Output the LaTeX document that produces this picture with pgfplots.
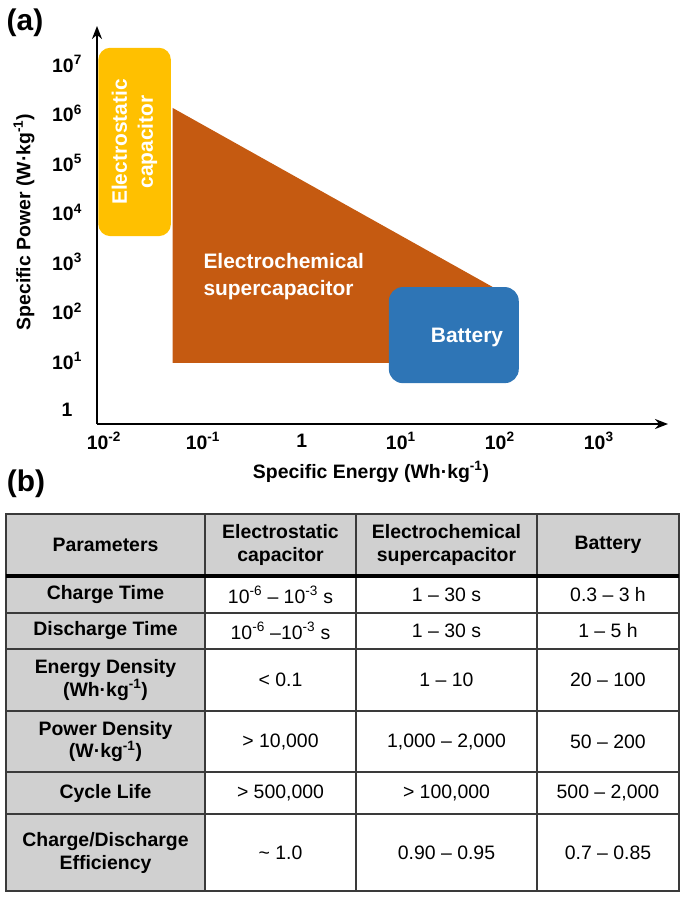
\documentclass[border=0pt]{standalone}
\usepackage{fontspec}
\setmainfont{Liberation Sans}
\usepackage{pgfplots}
\pgfplotsset{compat=1.18}
\usetikzlibrary{arrows.meta}
\definecolor{esc}{HTML}{FFC000}
\definecolor{ecs}{HTML}{C55A11}
\definecolor{bat}{HTML}{2E75B6}
\definecolor{tgray}{HTML}{D0D0D0}
\definecolor{tline}{HTML}{3A3A3A}
\newcommand{\fs}[2]{\fontsize{#1}{#2}\selectfont}
\begin{document}
\begin{tikzpicture}
\begin{scope}[x=1bp,y=-1bp]
\path (0,0) rectangle (685,898);
\end{scope}
\begin{axis}[
  at={(97bp,-424bp)}, anchor=south west,
  scale only axis, width=571bp, height=398bp,
  xmode=log, ymode=log,
  xmin=0.00851, xmax=5012, ymin=0.501, ymax=5.62e7,
  axis lines=left,
  axis line style={line width=2.2bp, -{Stealth[length=13bp,width=10bp]}},
  xtick={0.01,0.1,1,10,100,1000},
  xticklabels={10\textsuperscript{-2},10\textsuperscript{-1},1,10\textsuperscript{1},10\textsuperscript{2},10\textsuperscript{3}},
  ytick={1,10,100,1000,10000,100000,1000000,10000000},
  yticklabels={1,10\textsuperscript{1},10\textsuperscript{2},10\textsuperscript{3},10\textsuperscript{4},10\textsuperscript{5},10\textsuperscript{6},10\textsuperscript{7}},
  major tick length=0pt, minor tick length=0pt,
  xminorticks=false, yminorticks=false,
  tick label style={font=\fs{19.5}{22}\bfseries},
  xticklabel style={anchor=center, yshift=-17bp},
  yticklabel style={anchor=center, xshift=-30bp, yshift=-1bp},
  clip=false,
]
% electrochemical supercapacitor region
\addplot[draw=none, fill=ecs] coordinates {(0.0494,1.24e6) (85,295) (85,8.66) (0.0494,8.66)} -- cycle;
% electrostatic capacitor
\addplot[draw=none, fill=esc, rounded corners=12bp] coordinates {(0.0203,2.04e7) (0.0475,2.04e7) (0.0475,3162) (0.00878,3162) (0.00878,2.04e7)} -- cycle;
% battery
\addplot[draw=none, fill=bat, rounded corners=14bp] coordinates {(34.3,295) (155.6,295) (155.6,3.36) (7.57,3.36) (7.57,295)} -- cycle;
\end{axis}
\begin{scope}[x=1bp,y=-1bp]
% chart texts
\node[rotate=90, white, font=\fs{21}{26}\bfseries, align=center] at (134.5,142) {Electrostatic\\capacitor};
\node[anchor=west, white, font=\fs{21}{27}\bfseries, align=left] at (200,277) {Electrochemical\\supercapacitor};
\node[white, font=\fs{21}{26}\bfseries] at (467,337) {Battery};
\node[rotate=90, font=\fs{19.5}{23}\bfseries] at (24,222) {Specific Power (W·kg\textsuperscript{-1})};
\node[font=\fs{19.5}{23}\bfseries] at (371,472) {Specific Energy (Wh·kg\textsuperscript{-1})};
\node[font=\fs{30}{33}\bfseries] at (25,23) {(a)};
\node[font=\fs{30}{33}\bfseries] at (26,484) {(b)};
% table
\fill[tgray] (6,514) rectangle (679,576);
\fill[tgray] (6,576) rectangle (205,891);
\foreach \y in {613,649,711,772,814} \draw[tline, line width=1.5bp] (6,\y) -- (679,\y);
\foreach \x in {205,356,537} \draw[tline, line width=1.5bp] (\x,514) -- (\x,891);
\draw[tline, line width=1.8bp] (6,514) rectangle (679,891);
\draw[black, line width=3.5bp] (6,576) -- (679,576);
\begin{scope}[every node/.style={font=\fs{19.5}{23}, align=center}]
% header
\node[font=\fs{19.5}{23}\bfseries] at (105.5,545) {Parameters};
\node[font=\fs{19.5}{23}\bfseries] at (280.5,545) {Electrostatic\\capacitor};
\node[font=\fs{19.5}{23}\bfseries] at (446.5,545) {Electrochemical\\supercapacitor};
\node[font=\fs{19.5}{23}\bfseries] at (608,545) {Battery};
% first column
\node[font=\fs{19.5}{23}\bfseries] at (105.5,595) {Charge Time};
\node[font=\fs{19.5}{23}\bfseries] at (105.5,631) {Discharge Time};
\node[font=\fs{19.5}{23}\bfseries] at (105.5,680) {Energy Density\\(Wh·kg\textsuperscript{-1})};
\node[font=\fs{19.5}{23}\bfseries] at (105.5,741.5) {Power Density\\(W·kg\textsuperscript{-1})};
\node[font=\fs{19.5}{23}\bfseries] at (105.5,793) {Cycle Life};
\node[font=\fs{19.5}{23}\bfseries] at (105.5,853) {Charge/Discharge\\Efficiency};
% body
\node at (280.5,595) {10\textsuperscript{-6} – 10\textsuperscript{-3} s};
\node at (446.5,595) {1 – 30 s};
\node at (608,595) {0.3 – 3 h};
\node at (280.5,631) {10\textsuperscript{-6} –10\textsuperscript{-3} s};
\node at (446.5,631) {1 – 30 s};
\node at (608,631) {1 – 5 h};
\node at (280.5,680) {< 0.1};
\node at (446.5,680) {1 – 10};
\node at (608,680) {20 – 100};
\node at (280.5,741.5) {> 10,000};
\node at (446.5,741.5) {1,000 – 2,000};
\node at (608,741.5) {50 – 200};
\node at (280.5,793) {> 500,000};
\node at (446.5,793) {> 100,000};
\node at (608,793) {500 – 2,000};
\node at (280.5,853) {\textasciitilde{} 1.0};
\node at (446.5,853) {0.90 – 0.95};
\node at (608,853) {0.7 – 0.85};
\end{scope}
\end{scope}
\end{tikzpicture}
\end{document}
